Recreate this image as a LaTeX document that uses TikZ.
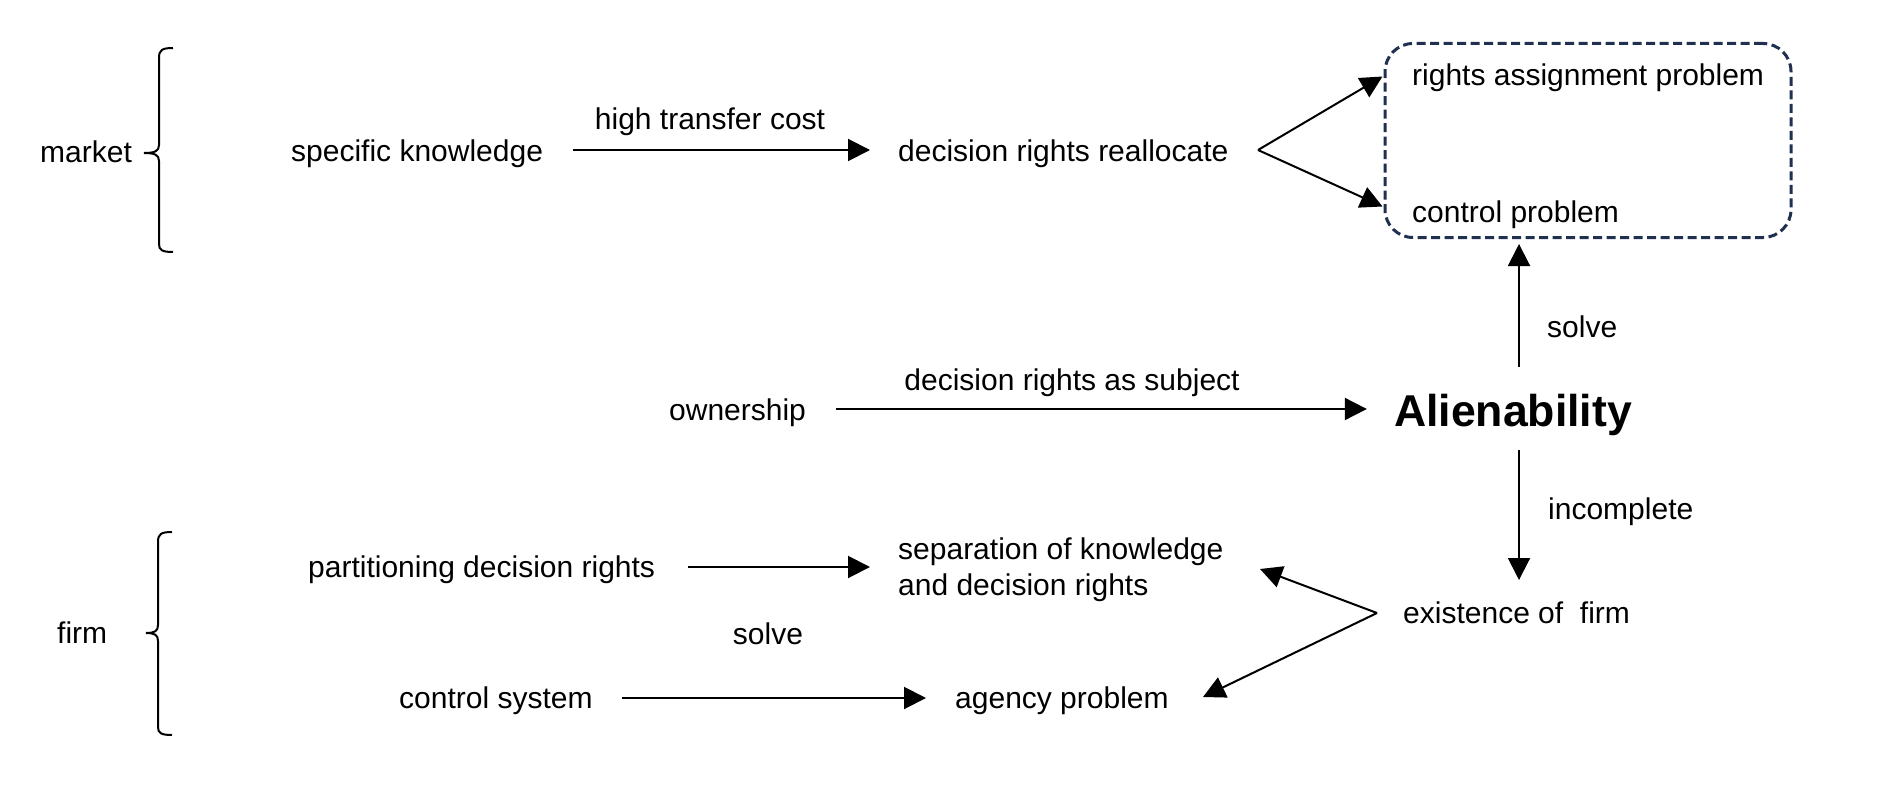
\documentclass[tikz,border=0pt]{standalone}
\usepackage{fontspec}
\setmainfont{Liberation Sans}
\usetikzlibrary{arrows.meta,calc}
\definecolor{navy}{HTML}{1F3050}
\tikzset{
  txt/.style={font=\fontsize{30}{36}\selectfont, inner sep=0pt, text height=21.5pt, text depth=0pt, anchor=west},
  ctxt/.style={txt, anchor=center},
  arr/.style={line width=2pt, -{Triangle[length=22pt,width=22pt]}},
  brace/.style={line width=2pt},
  dbox/.style={draw=navy, line width=3pt, dash pattern=on 9pt off 4.5pt, rounded corners=28pt, minimum width=406pt, minimum height=194pt, inner sep=0pt}
}
\begin{document}
\begin{tikzpicture}[x=1pt,y=-1pt]
\path[use as bounding box] (0,0) rectangle (1900,789);

% market group
\node[txt] (mk) at (40,152) {market};
\draw[brace] (173,48) .. controls (162,48) and (159,50) .. (159,58) -- (159,145)
  .. controls (159,151) and (155,153) .. (144,153)
  .. controls (155,153) and (159,155) .. (159,161) -- (159,244)
  .. controls (159,250) and (162,252) .. (173,252);

\node[txt] (sk) at (291,151) {specific knowledge};
\node[txt] (drr) at (898,151) {decision rights reallocate};
\node[ctxt] (htc) at (710,119) {high transfer cost};
\draw[arr] ($(sk.west)+(282,-1)$) -- ($(drr.west)+(-28,-1)$);

\node[dbox] (box) at (1588,140.5) {};
\node[txt] (rap) at (1412,75) {rights assignment problem};
\node[txt] (cp) at (1412,212) {control problem};
\coordinate (f1) at (1258,150);
\draw[arr] (f1) -- ($(box.west)+(-1,-64)$);
\draw[arr] (f1) -- ($(box.west)+(-1,66)$);

% middle row
\node[txt] (own) at (669,410) {ownership};
\node[font=\fontsize{44.6}{50}\selectfont\bfseries, inner sep=0pt, text height=32pt, text depth=0pt] (al) at (1513,410) {Alienability};
\node[ctxt] (drs) at (1072,380) {decision rights as subject};
\draw[arr] ($(own.west)+(167,-1)$) -- ($(al.west)+(-27,-1)$);

\draw[arr] ($(al.center)+(6,-43)$) -- ($(box.south)+(-69,5)$);
\node[txt] (solve1) at (1547,327) {solve};

\node[txt] (ex) at (1403,613) {existence of\ \ firm};
\draw[arr] ($(al.center)+(6,40)$) -- ($(ex.west)+(116,-33)$);
\node[txt] (inc) at (1548,509) {incomplete};

% firm group
\node[txt] (fm) at (57,633) {firm};
\draw[brace] (172,532) .. controls (161,532) and (158,534) .. (158,542) -- (158,625)
  .. controls (158,631) and (155,633) .. (146,633)
  .. controls (155,633) and (158,635) .. (158,641) -- (158,727)
  .. controls (158,733) and (161,735) .. (172,735);

\node[txt] (pdr) at (308,567) {partitioning decision rights};
\node[font=\fontsize{30}{36}\selectfont, inner sep=0pt, anchor=west, align=left] (sep) at (898,570) {separation of knowledge\\and decision rights};
\draw[arr] ($(pdr.west)+(380,0)$) -- ($(sep.west)+(-28,-3)$);

\node[ctxt] (solve2) at (768,634) {solve};

\node[txt] (cs) at (399,698) {control system};
\node[txt] (ag) at (955,698) {agency problem};
\draw[arr] ($(cs.west)+(223,0)$) -- ($(ag.west)+(-29,0)$);

\coordinate (f2) at (1377,613);
\draw[arr] (f2) -- (1260,569);
\draw[arr] (f2) -- (1203,697);
\end{tikzpicture}
\end{document}
